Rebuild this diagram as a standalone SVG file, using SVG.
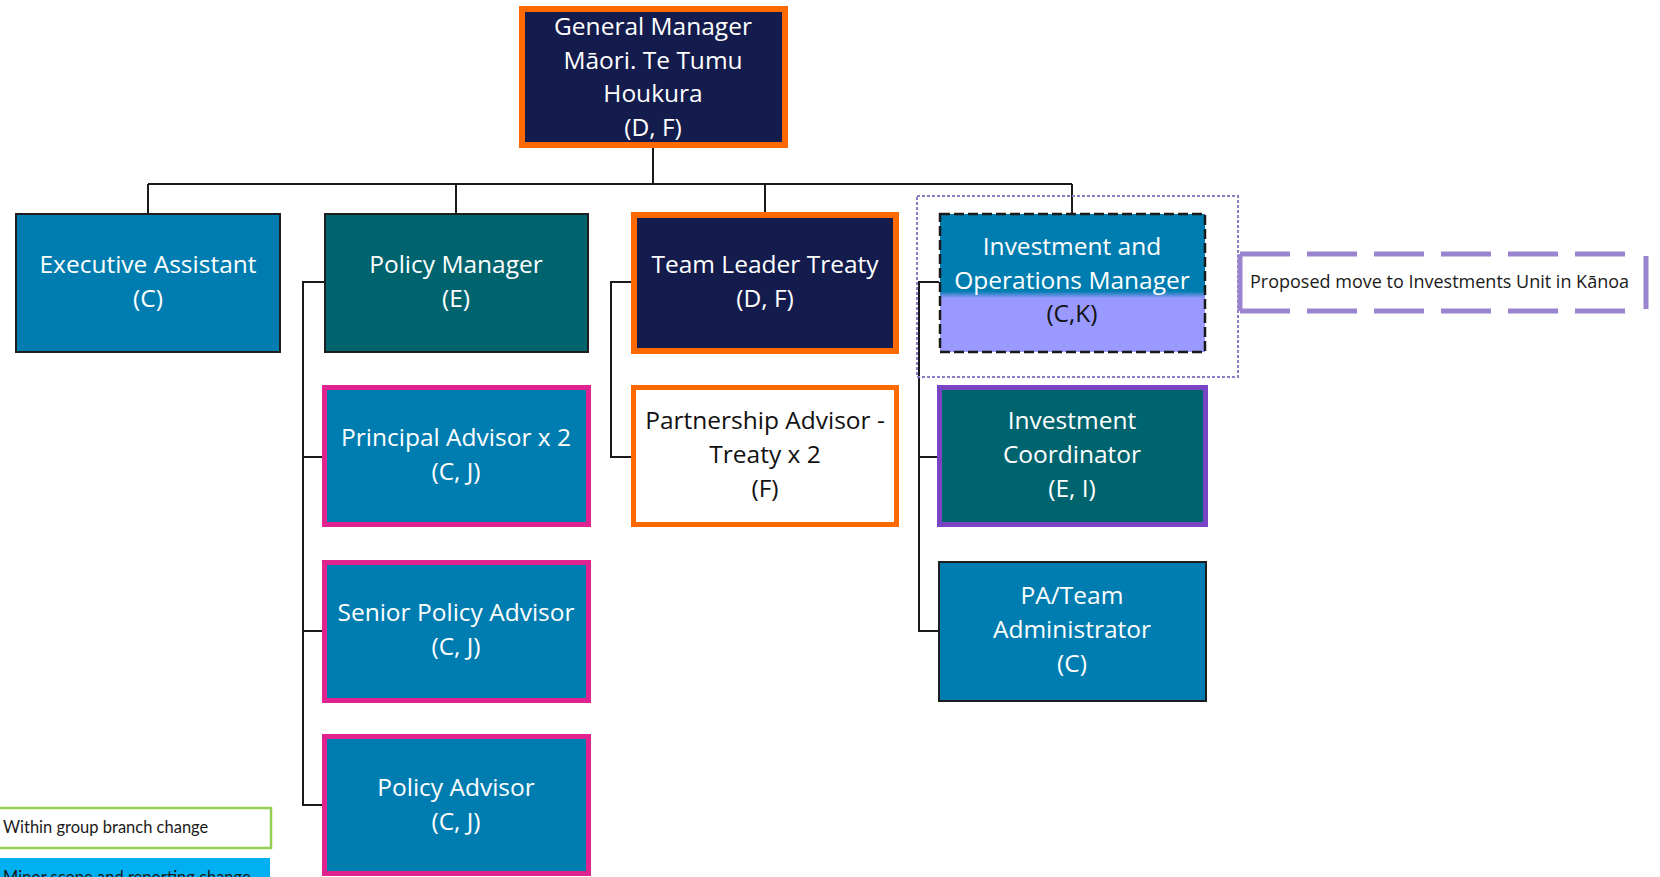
<svg xmlns="http://www.w3.org/2000/svg" width="1660" height="877" viewBox="0 0 1660 877">
  <defs>
    <linearGradient id="opsFill" x1="0" y1="0" x2="0" y2="1">
      <stop offset="0" stop-color="#007db0"/>
      <stop offset="0.56" stop-color="#007db0"/>
      <stop offset="0.61" stop-color="#9999ff"/>
      <stop offset="1" stop-color="#9999ff"/>
    </linearGradient>
  </defs>
  <style>
    .t { font-family: "Open Sans", Lato, sans-serif; font-size: 24.5px; text-anchor: middle; fill: #ffffff; }
    .dark { fill: #111111; }
    .blue { fill: #007db0; }
    .teal { fill: #00646e; }
    .navy { fill: #131c4d; }
    .thin { stroke: #1e1e1e; stroke-width: 2; }
    .orange { stroke: #ff6a00; stroke-width: 6; }
    .orange5 { stroke: #ff6a00; stroke-width: 5; }
    .magenta { stroke: #e0238f; stroke-width: 5; }
    .purple { stroke: #7a45c4; stroke-width: 5; }
    .conn { fill: none; stroke: #1a1a1a; stroke-width: 2; }
    .callout { fill: none; stroke: #9a84d0; stroke-width: 5; }
    .note { font-family: "Open Sans", Lato, sans-serif; font-size: 18px; fill: #1a1a1a; }
    .key { font-family: Lato, "Open Sans", sans-serif; font-size: 16.5px; fill: #1a1a1a; }
  </style>
  <rect width="1660" height="877" fill="#ffffff"/>

  <!-- reporting lines -->
  <g id="connectors">
    <path class="conn" d="M653 148 V184 M148 184 H1072 M148 184 V213 M456 184 V213 M765 184 V213 M1072 184 V213"/>
    <path class="conn" d="M324 282 H303 V805 H324 M303 457 H324 M303 631 H324"/>
    <path class="conn" d="M632 282 H611 V457 H632"/>
    <path class="conn" d="M939 282 H919 V631 H939 M919 457 H939"/>
  </g>

  <g id="gm">
    <rect class="navy orange" x="522" y="9" width="263" height="136"/>
    <text class="t" x="653" y="35">General Manager</text>
    <text class="t" x="653" y="69">Māori. Te Tumu</text>
    <text class="t" x="653" y="102">Houkura</text>
    <text class="t" x="653" y="136">(D, F)</text>
  </g>

  <g id="executive-assistant">
    <rect class="blue thin" x="16" y="214" width="264" height="138"/>
    <text class="t" x="148" y="273">Executive Assistant</text>
    <text class="t" x="148" y="307">(C)</text>
  </g>

  <g id="policy-manager">
    <rect class="teal thin" x="325" y="214" width="263" height="138"/>
    <text class="t" x="456" y="273">Policy Manager</text>
    <text class="t" x="456" y="307">(E)</text>
  </g>

  <g id="team-leader-treaty">
    <rect class="navy orange" x="634" y="215" width="262" height="136"/>
    <text class="t" x="765" y="273">Team Leader Treaty</text>
    <text class="t" x="765" y="307">(D, F)</text>
  </g>

  <g id="investment-operations-manager">
    <rect fill="url(#opsFill)" stroke="#1a1a1a" stroke-width="2.5" stroke-dasharray="10 4" x="940" y="214" width="265" height="138"/>
    <text class="t" x="1072" y="255">Investment and</text>
    <text class="t" x="1072" y="289">Operations Manager</text>
    <text class="t dark" x="1072" y="322">(C,K)</text>
  </g>

  <g id="proposed-move">
    <rect x="917" y="196" width="321" height="181" fill="none" stroke="#8f7bc6" stroke-width="2" stroke-dasharray="3 2"/>
    <path class="callout" stroke-dasharray="50 17" d="M1240 254 H1636 M1240 311 H1636"/>
    <path class="callout" d="M1240 254 V311 M1646 256 V309"/>
    <text class="note" x="1250" y="288">Proposed move to Investments Unit in Kānoa</text>
  </g>

  <g id="principal-advisor">
    <rect class="blue magenta" x="324.5" y="387.5" width="264" height="137"/>
    <text class="t" x="456" y="446">Principal Advisor x 2</text>
    <text class="t" x="456" y="480">(C, J)</text>
  </g>

  <g id="partnership-advisor">
    <rect class="orange5" fill="#ffffff" x="633.5" y="387.5" width="263" height="137"/>
    <text class="t dark" x="765" y="429">Partnership Advisor -</text>
    <text class="t dark" x="765" y="463">Treaty x 2</text>
    <text class="t dark" x="765" y="497">(F)</text>
  </g>

  <g id="investment-coordinator">
    <rect class="teal purple" x="939.5" y="387.5" width="266" height="137"/>
    <text class="t" x="1072" y="429">Investment</text>
    <text class="t" x="1072" y="463">Coordinator</text>
    <text class="t" x="1072" y="497">(E, I)</text>
  </g>

  <g id="senior-policy-advisor">
    <rect class="blue magenta" x="324.5" y="562.5" width="264" height="138"/>
    <text class="t" x="456" y="621">Senior Policy Advisor</text>
    <text class="t" x="456" y="655">(C, J)</text>
  </g>

  <g id="pa-team-administrator">
    <rect class="blue thin" x="939" y="562" width="267" height="139"/>
    <text class="t" x="1072" y="604">PA/Team</text>
    <text class="t" x="1072" y="638">Administrator</text>
    <text class="t" x="1072" y="672">(C)</text>
  </g>

  <g id="policy-advisor">
    <rect class="blue magenta" x="324.5" y="736.5" width="264" height="137"/>
    <text class="t" x="456" y="796">Policy Advisor</text>
    <text class="t" x="456" y="830">(C, J)</text>
  </g>

  <g id="legend">
    <rect x="-2" y="808" width="273" height="40" fill="#ffffff" stroke="#92d050" stroke-width="2.5"/>
    <text class="key" x="3" y="833">Within group branch change</text>
    <rect x="-2" y="858" width="272" height="30" fill="#00b0f0"/>
    <text class="key" x="3" y="883">Minor scope and reporting change</text>
  </g>
</svg>
